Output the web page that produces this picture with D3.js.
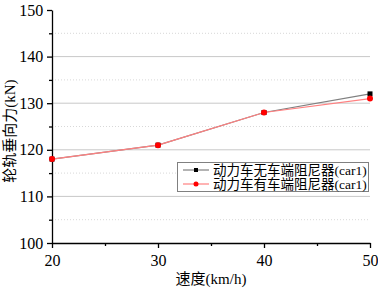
<!DOCTYPE html>
<html><head><meta charset="utf-8">
<script src="https://cdn.jsdelivr.net/npm/d3@7"></script>
<style>body{margin:0;background:#fff}svg{display:block}
text{font-family:"Liberation Serif","Times New Roman","Noto Sans CJK SC",serif !important;}</style>
</head><body>
<script>
const speeds = [20, 30, 40, 50];
const noDamper = [118, 121, 128, 132];
const withDamper = [118, 121, 128, 131];
const seriesNames = ["动力车无车端阻尼器(car1)", "动力车有车端阻尼器(car1)"];
const xTicks = [20, 30, 40, 50];
const yTicks = [100, 110, 120, 130, 140, 150];

const W = 378, H = 288;
const svg = d3.select("body").append("svg").attr("width", W).attr("height", H);
const x = d3.scaleLinear().domain([20, 50]).range([52, 370]);
const y = d3.scaleLinear().domain([100, 150]).range([243, 10]);

// grid
const g = svg.append("g");
[110,120,130,140].forEach(v => g.append("line").attr("x1", x(20)).attr("x2", x(50))
  .attr("y1", y(v)).attr("y2", y(v)).attr("stroke", "#c8c8c8").attr("stroke-width", 1));
[105,115,125,135,145].forEach(v => g.append("line").attr("x1", x(20)).attr("x2", x(50))
  .attr("y1", y(v)).attr("y2", y(v)).attr("stroke", "#d8d8d8").attr("stroke-width", 1).attr("stroke-dasharray", "1,2"));

// axes
const xAxis = svg.append("g").attr("transform", `translate(0,${y(100)})`)
  .call(d3.axisBottom(x).tickValues(xTicks).tickSize(5).tickSizeOuter(0).tickFormat(d3.format("d")));
const xMinor = svg.append("g").attr("transform", `translate(0,${y(100)})`)
  .call(d3.axisBottom(x).tickValues([25,35,45]).tickSize(3).tickFormat(""));
xMinor.select(".domain").remove();
const yAxis = svg.append("g").attr("transform", `translate(${x(20)},0)`)
  .call(d3.axisLeft(y).tickValues(yTicks).tickSize(5).tickSizeOuter(0).tickFormat(d3.format("d")));
const yMinor = svg.append("g").attr("transform", `translate(${x(20)},0)`)
  .call(d3.axisLeft(y).tickValues([105,115,125,135,145]).tickSize(3).tickFormat(""));
yMinor.select(".domain").remove();
[xAxis, yAxis, xMinor, yMinor].forEach(a => {
  a.selectAll("path,line").attr("stroke", "#000").attr("stroke-width", 1.3);
  a.selectAll("text").attr("font-size", 16).attr("fill", "#000");
});
xAxis.selectAll("text").attr("dy", "0.95em");
yAxis.selectAll("text").attr("dx", "-0.05em");

// lines
const line = vals => d3.line().x((d,i) => x(speeds[i])).y(d => y(d))(vals);
svg.append("path").attr("d", line(noDamper)).attr("fill", "none").attr("stroke", "#808080").attr("stroke-width", 1.2);
svg.append("path").attr("d", line(withDamper)).attr("fill", "none").attr("stroke", "#ff8080").attr("stroke-width", 1.2);
svg.selectAll(".sq").data(noDamper).enter().append("rect")
  .attr("x", (d,i) => x(speeds[i]) - 2.5).attr("y", d => y(d) - 2.5).attr("width", 5).attr("height", 5).attr("fill", "#000");
svg.selectAll(".ci").data(withDamper).enter().append("circle")
  .attr("cx", (d,i) => x(speeds[i])).attr("cy", d => y(d)).attr("r", 3).attr("fill", "#ff0000");

// legend
const lg = svg.append("g");
lg.append("rect").attr("x", 177.5).attr("y", 162.5).attr("width", 191).attr("height", 29)
  .attr("fill", "#fff").attr("stroke", "#808080").attr("stroke-width", 1);
const colors = ["#808080", "#ff8080"];
seriesNames.forEach((n, i) => {
  const yy = 170 + i * 14;
  lg.append("line").attr("x1", 183).attr("x2", 209).attr("y1", yy).attr("y2", yy).attr("stroke", colors[i]).attr("stroke-width", 1.2);
  if (i === 0) lg.append("rect").attr("x", 194).attr("y", yy - 2).attr("width", 4).attr("height", 4).attr("fill", "#000");
  else lg.append("circle").attr("cx", 196).attr("cy", yy).attr("r", 2.5).attr("fill", "#f00");
  lg.append("text").attr("x", 213).attr("y", yy + 5).text(n)
    .attr("font-size", 13.5).attr("fill", "#000");
});

// labels
svg.append("text").attr("x", 211).attr("y", 284).attr("text-anchor", "middle").text("速度(km/h)")
  .attr("font-size", 15);
svg.append("text").attr("transform", `translate(15,${y(124)}) rotate(-90)`).attr("text-anchor", "middle")
  .text("轮轨垂向力(kN)").attr("font-size", 15);
</script>
</body></html>
